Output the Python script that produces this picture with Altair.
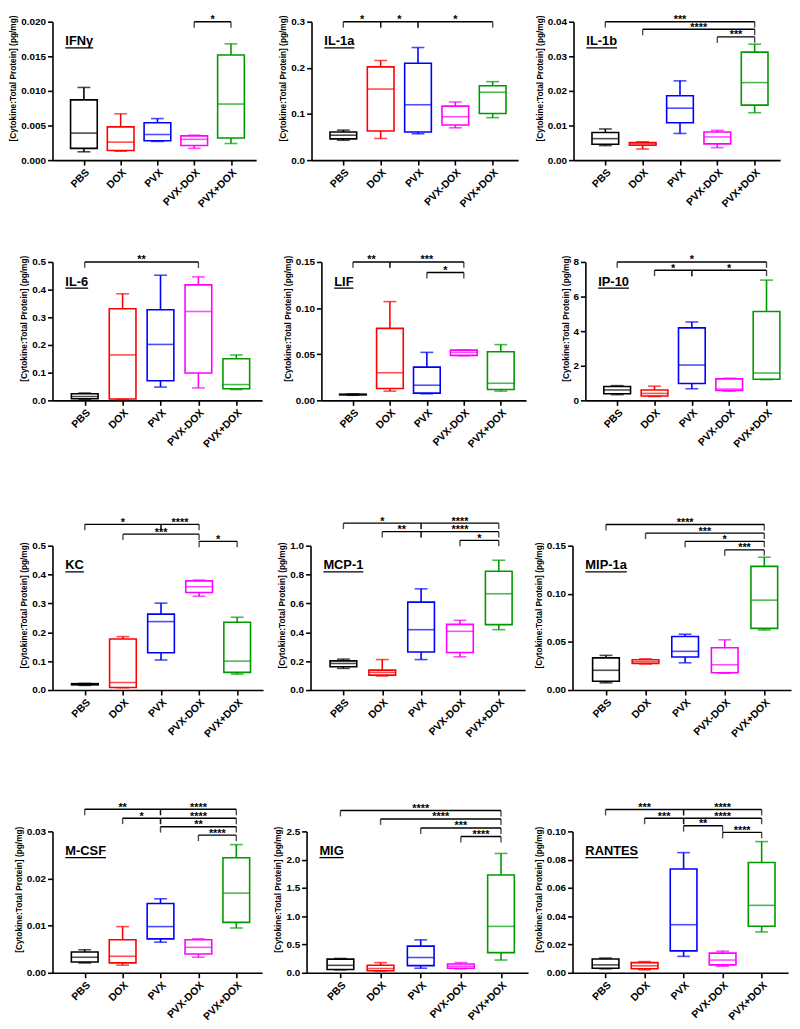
import json
import altair as alt
import pandas as pd

FONT = "Liberation Sans"
GROUPS = ["PBS", "DOX", "PVX", "PVX-DOX", "PVX+DOX"]
COLORS = ["#000000", "#ff0000", "#0000ff", "#ff00ff", "#009a00"]
Y_TITLE = "[Cytokine:Total Protein] (pg/mg)"

# Box statistics [min, q1, median, q3, max] for PBS, DOX, PVX, PVX-DOX, PVX+DOX
IFNG = [[0.0012, 0.0017, 0.0039, 0.0087, 0.0105],
        [0.0013, 0.0014, 0.0026, 0.0048, 0.0067],
        [0.0027, 0.0028, 0.0037, 0.0054, 0.0060],
        [0.0017, 0.0021, 0.0030, 0.0035, 0.0036],
        [0.0024, 0.0032, 0.0081, 0.0152, 0.0168]]
IL1A = [[0.043, 0.046, 0.054, 0.061, 0.065],
        [0.047, 0.063, 0.154, 0.202, 0.216],
        [0.057, 0.061, 0.120, 0.210, 0.244],
        [0.070, 0.076, 0.094, 0.117, 0.126],
        [0.092, 0.101, 0.147, 0.161, 0.170]]
IL1B = [[0.0042, 0.0046, 0.0062, 0.0080, 0.0090],
        [0.0032, 0.0043, 0.0047, 0.0051, 0.0053],
        [0.0077, 0.0108, 0.0150, 0.0186, 0.0229],
        [0.0036, 0.0047, 0.0067, 0.0081, 0.0086],
        [0.0137, 0.0159, 0.0224, 0.0312, 0.0335]]
IL6 = [[0.004, 0.006, 0.014, 0.024, 0.026],
       [0.003, 0.005, 0.164, 0.331, 0.385],
       [0.048, 0.071, 0.202, 0.327, 0.452],
       [0.045, 0.099, 0.321, 0.417, 0.446],
       [0.039, 0.042, 0.057, 0.150, 0.164]]
LIF = [[0.0055, 0.0060, 0.0063, 0.0066, 0.0070],
       [0.0100, 0.0128, 0.0300, 0.0780, 0.1070],
       [0.0071, 0.0078, 0.0164, 0.0360, 0.0520],
       [0.0483, 0.0487, 0.0520, 0.0544, 0.0547],
       [0.0100, 0.0117, 0.0185, 0.0526, 0.0604]]
IP10 = [[0.33, 0.38, 0.60, 0.80, 0.85],
        [0.22, 0.25, 0.40, 0.60, 0.82],
        [0.67, 0.97, 2.04, 4.19, 4.53],
        [0.53, 0.57, 0.65, 1.24, 1.28],
        [1.20, 1.22, 1.58, 5.14, 6.95]]
KC = [[0.016, 0.018, 0.020, 0.022, 0.023],
      [0.008, 0.009, 0.026, 0.177, 0.185],
      [0.104, 0.129, 0.237, 0.263, 0.301],
      [0.325, 0.338, 0.358, 0.378, 0.381],
      [0.055, 0.061, 0.100, 0.235, 0.252]]
MCP1 = [[0.150, 0.161, 0.184, 0.202, 0.214],
        [0.097, 0.103, 0.122, 0.138, 0.211],
        [0.211, 0.264, 0.418, 0.609, 0.701],
        [0.230, 0.260, 0.407, 0.455, 0.483],
        [0.418, 0.453, 0.667, 0.823, 0.899]]
MIP1A = [[0.0075, 0.0092, 0.0205, 0.0334, 0.0360],
         [0.0270, 0.0276, 0.0293, 0.0314, 0.0324],
         [0.0283, 0.0344, 0.0402, 0.0556, 0.0580],
         [0.0174, 0.0180, 0.0263, 0.0440, 0.0522],
         [0.0624, 0.0641, 0.0934, 0.1285, 0.1380]]
MCSF = [[0.0021, 0.0023, 0.0033, 0.0044, 0.0049],
        [0.0016, 0.0021, 0.0035, 0.0070, 0.0098],
        [0.0065, 0.0072, 0.0098, 0.0147, 0.0157],
        [0.0033, 0.0040, 0.0054, 0.0070, 0.0072],
        [0.0095, 0.0107, 0.0169, 0.0244, 0.0272]]
MIG = [[0.052, 0.058, 0.132, 0.242, 0.253],
       [0.030, 0.035, 0.075, 0.132, 0.180],
       [0.080, 0.127, 0.270, 0.472, 0.582],
       [0.070, 0.080, 0.115, 0.156, 0.180],
       [0.225, 0.357, 0.820, 1.730, 2.110]]
RANTES = [[0.0028, 0.0032, 0.0056, 0.0097, 0.0104],
          [0.0021, 0.0028, 0.0049, 0.0072, 0.0079],
          [0.0116, 0.0155, 0.0340, 0.0734, 0.0850],
          [0.0046, 0.0056, 0.0090, 0.0139, 0.0153],
          [0.0289, 0.0329, 0.0477, 0.0780, 0.0928]]

# Significance brackets: (from group, to group, level, label)
IFNG_SIG = [("PVX-DOX", "PVX+DOX", 0.020, "*")]
IL1A_SIG = [("PBS", "DOX", 0.30, "*"), ("DOX", "PVX", 0.30, "*"), ("PVX", "PVX+DOX", 0.30, "*")]
IL1B_SIG = [("PBS", "PVX+DOX", 0.040, "***"), ("DOX", "PVX+DOX", 0.0378, "****"),
            ("PVX-DOX", "PVX+DOX", 0.0356, "***")]
IL6_SIG = [("PBS", "PVX-DOX", 0.50, "**")]
LIF_SIG = [("PBS", "DOX", 0.15, "**"), ("DOX", "PVX-DOX", 0.15, "***"), ("PVX", "PVX-DOX", 0.1386, "*")]
IP10_SIG = [("PBS", "PVX+DOX", 8.0, "*"), ("DOX", "PVX", 7.52, "*"), ("PVX", "PVX+DOX", 7.52, "*")]
KC_SIG = [("PBS", "PVX", 0.574, "*"), ("PVX", "PVX-DOX", 0.574, "****"),
          ("DOX", "PVX-DOX", 0.540, "***"), ("PVX-DOX", "PVX+DOX", 0.515, "*")]
MCP1_SIG = [("PBS", "PVX", 1.156, "*"), ("PVX", "PVX+DOX", 1.156, "****"),
            ("DOX", "PVX", 1.097, "**"), ("PVX", "PVX+DOX", 1.097, "****"),
            ("PVX-DOX", "PVX+DOX", 1.037, "*")]
MIP1A_SIG = [("PBS", "PVX+DOX", 0.172, "****"), ("DOX", "PVX+DOX", 0.163, "***"),
             ("PVX", "PVX+DOX", 0.1545, "*"), ("PVX-DOX", "PVX+DOX", 0.1456, "***")]
MCSF_SIG = [("PBS", "PVX", 0.0347, "**"), ("PVX", "PVX+DOX", 0.0347, "****"),
            ("DOX", "PVX", 0.0328, "*"), ("PVX", "PVX+DOX", 0.0328, "****"),
            ("PVX", "PVX+DOX", 0.0310, "**"), ("PVX-DOX", "PVX+DOX", 0.0292, "****")]
MIG_SIG = [("PBS", "PVX+DOX", 2.87, "****"), ("DOX", "PVX+DOX", 2.72, "****"),
           ("PVX", "PVX+DOX", 2.56, "***"), ("PVX-DOX", "PVX+DOX", 2.41, "****")]
RANTES_SIG = [("PBS", "PVX", 0.1155, "***"), ("PVX", "PVX+DOX", 0.1155, "****"),
              ("DOX", "PVX", 0.1093, "***"), ("PVX", "PVX+DOX", 0.1093, "****"),
              ("PVX", "PVX-DOX", 0.1040, "**"), ("PVX-DOX", "PVX+DOX", 0.0993, "****")]

# Panel definitions: title, stats, brackets, axis max, tick values, tick format
ROWS = [
    [("IFNγ", IFNG, IFNG_SIG, 0.020, [0, 0.005, 0.010, 0.015, 0.020], ".3f"),
     ("IL-1a", IL1A, IL1A_SIG, 0.3, [0, 0.1, 0.2, 0.3], ".1f"),
     ("IL-1b", IL1B, IL1B_SIG, 0.04, [0, 0.01, 0.02, 0.03, 0.04], ".2f")],
    [("IL-6", IL6, IL6_SIG, 0.5, [0, 0.1, 0.2, 0.3, 0.4, 0.5], ".1f"),
     ("LIF", LIF, LIF_SIG, 0.15, [0, 0.05, 0.10, 0.15], ".2f"),
     ("IP-10", IP10, IP10_SIG, 8, [0, 2, 4, 6, 8], "d")],
    [("KC", KC, KC_SIG, 0.5, [0, 0.1, 0.2, 0.3, 0.4, 0.5], ".1f"),
     ("MCP-1", MCP1, MCP1_SIG, 1.0, [0, 0.2, 0.4, 0.6, 0.8, 1.0], ".1f"),
     ("MIP-1a", MIP1A, MIP1A_SIG, 0.15, [0, 0.05, 0.10, 0.15], ".2f")],
    [("M-CSF", MCSF, MCSF_SIG, 0.03, [0, 0.01, 0.02, 0.03], ".2f"),
     ("MIG", MIG, MIG_SIG, 2.5, [0, 0.5, 1.0, 1.5, 2.0, 2.5], ".1f"),
     ("RANTES", RANTES, RANTES_SIG, 0.10, [0, 0.02, 0.04, 0.06, 0.08, 0.10], ".2f")],
]
PANEL_W = [[206, 209, 209], [212, 207, 209], [213, 217, 221], [212, 224, 218]]
ROW_H = [140, 140, 146, 143]
ROW_SPACING = [56, 60, 48, 45]

CHAR_W = {"I": .278, "F": .611, "N": .722, "γ": .556, "L": .611, "-": .333, "1": .556,
          "a": .556, "b": .611, "6": .556, "P": .667, "0": .556, "K": .722, "C": .722,
          "M": .833, "R": .722, "A": .722, "T": .611, "E": .667, "S": .667, "G": .778}

LABEL_EXPR = json.dumps(GROUPS) + "[datum.value]"
XSCALE = alt.Scale(domain=[-0.72, 4.55], nice=False, zero=False)
COLOR_SCALE = alt.Scale(domain=GROUPS, range=COLORS)


def panel(name, stats, sig, ymax, ticks, fmt, w, h):
    idx = {g: i for i, g in enumerate(GROUPS)}
    box = pd.DataFrame({
        "group": GROUPS, "idx": list(range(5)),
        "lo": [s[0] for s in stats], "q1": [s[1] for s in stats],
        "med": [s[2] for s in stats], "q3": [s[3] for s in stats],
        "hi": [s[4] for s in stats],
    })
    caps = pd.concat([box[["group", "idx"]].assign(v=box["lo"]),
                      box[["group", "idx"]].assign(v=box["hi"])])
    sg = pd.DataFrame({
        "x1": [idx[a] for a, b, l, t in sig], "x2": [idx[b] for a, b, l, t in sig],
        "level": [l for a, b, l, t in sig], "label": [t for a, b, l, t in sig],
    })
    sg["xm"] = (sg["x1"] + sg["x2"]) / 2
    ends = pd.concat([pd.DataFrame({"x": sg["x1"], "level": sg["level"]}),
                      pd.DataFrame({"x": sg["x2"], "level": sg["level"]})])

    xaxis = alt.Axis(values=[0, 1, 2, 3, 4], labelExpr=LABEL_EXPR, title=None,
                     labelAngle=-45, labelFontSize=10.5, tickSize=5, labelPadding=2,
                     labelOverlap=False)
    yaxis = alt.Axis(values=ticks, format=fmt, title=Y_TITLE, titleY=h / 2 - 13,
                     tickSize=5, labelFontSize=10, titlePadding=3)
    yscale = alt.Scale(domain=[0, ymax], nice=False, zero=True)

    def X(f):
        return alt.X(f"{f}:Q", scale=XSCALE, axis=xaxis)

    def Y(f):
        return alt.Y(f"{f}:Q", scale=yscale, axis=yaxis)

    color = alt.Color("group:N", scale=COLOR_SCALE, legend=None)
    stroke = alt.Stroke("group:N", scale=COLOR_SCALE, legend=None)

    whisk = alt.Chart(box).mark_rule(strokeWidth=1.6).encode(x=X("idx"), y=Y("lo"), y2="hi", color=color)
    capm = alt.Chart(caps).mark_tick(orient="horizontal", size=13, thickness=1.6).encode(
        x=X("idx"), y=Y("v"), color=color)
    boxm = alt.Chart(box).mark_bar(size=27, fill="white", strokeWidth=1.6).encode(
        x=X("idx"), y=Y("q1"), y2="q3", stroke=stroke)
    med = alt.Chart(box).mark_tick(orient="horizontal", size=27, thickness=1.6).encode(
        x=X("idx"), y=Y("med"), color=color)
    lines = alt.Chart(sg).mark_rule(strokeWidth=1.4, color="black").encode(
        x=X("x1"), x2="x2", y=Y("level"))
    endt = alt.Chart(ends).mark_tick(orient="vertical", size=6, thickness=1.4, yOffset=3,
                                     color="black").encode(x=X("x"), y=Y("level"))
    stars = alt.Chart(sg).mark_text(font=FONT, fontSize=11, fontWeight="bold", baseline="alphabetic",
                                    dy=1.5, color="black").encode(x=X("xm"), y=Y("level"), text="label:N")
    tdx = 13
    tw = sum(CHAR_W.get(c, 0.6) for c in name) * 13
    tdf = pd.DataFrame({"t": [name]})
    title = alt.Chart(tdf).mark_text(font=FONT, fontSize=13, fontWeight="bold", align="left",
                                     baseline="alphabetic", color="black").encode(
        x=alt.value(tdx), y=alt.value(24), text="t:N")
    under = alt.Chart(tdf).mark_rule(color="black", strokeWidth=1.3).encode(
        x=alt.value(tdx), x2=alt.value(tdx + tw), y=alt.value(26.5))
    return alt.layer(whisk, boxm, capm, med, lines, endt, stars, title, under).properties(width=w, height=h)


rows = []
for r, row in enumerate(ROWS):
    panels = [panel(*p, PANEL_W[r][c], ROW_H[r]) for c, p in enumerate(row)]
    rows.append(alt.hconcat(*panels, spacing=ROW_SPACING[r], bounds="flush"))

top = alt.concat(rows[0], rows[1], columns=1, spacing=45, align="none")
bottom = alt.concat(rows[2], rows[3], columns=1, spacing=63, align="none")
chart = alt.concat(top, bottom, columns=1, spacing=66, align="none").properties(padding=0).configure_axis(
    labelFont=FONT, titleFont=FONT, labelFontWeight="bold", titleFontWeight="bold",
    titleFontSize=8.4, labelColor="black", titleColor="black", domainColor="black",
    tickColor="black", domainWidth=1.6, tickWidth=1.6, grid=False
).configure_view(stroke=None)

chart.save("out.html", embed_options={"renderer": "svg", "actions": False})
